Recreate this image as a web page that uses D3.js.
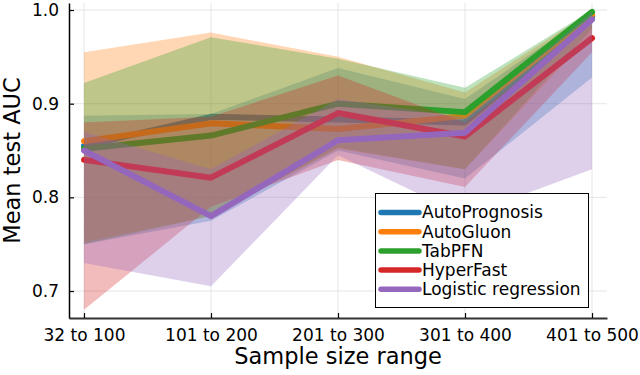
<!DOCTYPE html>
<html>
<head>
<meta charset="utf-8">
<script src="https://cdn.jsdelivr.net/npm/d3@7"></script>
<style>
body { margin: 0; background: #fff; }
svg { font-family: "DejaVu Sans", sans-serif; }
</style>
</head>
<body>
<svg id="chart" width="640" height="375"></svg>
<script>
var categories = ["32 to 100", "101 to 200", "201 to 300", "301 to 400", "401 to 500"];
var seriesNames = ["AutoPrognosis", "AutoGluon", "TabPFN", "HyperFast", "Logistic regression"];
var colors = ["#1f77b4", "#ff7f0e", "#2ca02c", "#d62728", "#9467bd"];

// mean AUC per range
var autoPrognosis = [0.855, 0.886, 0.883, 0.880, 0.993];
var autoGluon     = [0.860, 0.879, 0.873, 0.887, 0.995];
var tabPFN        = [0.852, 0.866, 0.900, 0.891, 0.998];
var hyperFast     = [0.840, 0.821, 0.890, 0.865, 0.970];
var logistic      = [0.850, 0.780, 0.861, 0.869, 0.990];

// ribbon bounds
var autoPrognosisLo = [0.750, 0.775, 0.850, 0.820, 0.928];
var autoPrognosisHi = [0.887, 0.889, 0.938, 0.905, 0.998];
var autoGluonLo     = [0.752, 0.780, 0.852, 0.830, 0.975];
var autoGluonHi     = [0.955, 0.976, 0.950, 0.912, 0.999];
var tabPFNLo        = [0.750, 0.780, 0.853, 0.830, 0.980];
var tabPFNHi        = [0.922, 0.971, 0.948, 0.917, 1.000];
var hyperFastLo     = [0.680, 0.790, 0.840, 0.811, 0.955];
var hyperFastHi     = [0.880, 0.886, 0.930, 0.880, 0.985];
var logisticLo      = [0.730, 0.705, 0.845, 0.780, 0.830];
var logisticHi      = [0.870, 0.830, 0.905, 0.885, 0.998];

var yTicks = [0.7, 0.8, 0.9, 1.0];

var means = [autoPrognosis, autoGluon, tabPFN, hyperFast, logistic];
var lows = [autoPrognosisLo, autoGluonLo, tabPFNLo, hyperFastLo, logisticLo];
var highs = [autoPrognosisHi, autoGluonHi, tabPFNHi, hyperFastHi, logisticHi];

var plotLeft = 69, plotRight = 607, plotTop = 3, plotBottom = 318;

var x = d3.scalePoint()
	.domain(categories)
	.range([plotLeft, plotRight])
	.padding(0.118);
var y = d3.scaleLinear()
	.domain([0.6712, 1.0075])
	.range([plotBottom, plotTop]);

var svg = d3.select("#chart");

// grid
svg.append("g")
	.selectAll("line")
	.data(categories)
	.enter().append("line")
	.attr("x1", function(d) { return x(d); })
	.attr("x2", function(d) { return x(d); })
	.attr("y1", plotTop).attr("y2", plotBottom)
	.attr("stroke", "#e5e5e5").attr("stroke-width", 1);
svg.append("g")
	.selectAll("line")
	.data(yTicks)
	.enter().append("line")
	.attr("x1", plotLeft).attr("x2", plotRight)
	.attr("y1", function(d) { return y(d); })
	.attr("y2", function(d) { return y(d); })
	.attr("stroke", "#e5e5e5").attr("stroke-width", 1);

var area = d3.area()
	.x(function(d) { return x(d.c); })
	.y0(function(d) { return y(d.lo); })
	.y1(function(d) { return y(d.hi); });
var line = d3.line()
	.x(function(d) { return x(d.c); })
	.y(function(d) { return y(d.m); });

// each series: ribbon first, then its line, so later ribbons cover earlier lines
for(var s = 0; s < seriesNames.length; s++)
{
	var pts = categories.map(function(c, i) {
		return {"c": c, "m": means[s][i], "lo": lows[s][i], "hi": highs[s][i]};
	});
	svg.append("path")
		.datum(pts)
		.attr("d", area)
		.attr("fill", colors[s])
		.attr("fill-opacity", 0.31);
	svg.append("path")
		.datum(pts)
		.attr("d", line)
		.attr("fill", "none")
		.attr("stroke", colors[s])
		.attr("stroke-width", 6)
		.attr("stroke-linecap", "round")
		.attr("stroke-linejoin", "round");
}

// axes
var xAxis = d3.axisBottom(x).tickSizeInner(-5).tickSizeOuter(0).tickPadding(10);
var yAxis = d3.axisLeft(y).tickValues(yTicks).tickFormat(d3.format(".1f"))
	.tickSizeInner(-5).tickSizeOuter(0).tickPadding(10);

var gx = svg.append("g")
	.attr("transform", "translate(0," + plotBottom + ")")
	.call(xAxis);
gx.attr("font-size", 17).attr("font-family", "DejaVu Sans");
gx.select(".domain").attr("stroke", "#333").attr("stroke-width", 2);
gx.selectAll(".tick line").attr("stroke", "#000").attr("stroke-width", 1.2);
gx.selectAll("text").attr("fill", "#000").attr("y", 10).attr("dy", "0.75em");

var gy = svg.append("g")
	.attr("transform", "translate(" + plotLeft + ",0)")
	.call(yAxis);
gy.attr("font-size", 17).attr("font-family", "DejaVu Sans");
gy.select(".domain").attr("stroke", "#000").attr("stroke-width", 1.5);
gy.selectAll(".tick line").attr("stroke", "#000").attr("stroke-width", 1.2);
gy.selectAll("text").attr("fill", "#000").attr("x", -10);

// axis titles
svg.append("text")
	.attr("x", (plotLeft + plotRight) / 2)
	.attr("y", 364)
	.attr("text-anchor", "middle")
	.attr("font-size", 22.5)
	.text("Sample size range");
svg.append("text")
	.attr("transform", "translate(20," + ((plotTop + plotBottom) / 2) + ") rotate(-90)")
	.attr("text-anchor", "middle")
	.attr("font-size", 22.5)
	.text("Mean test AUC");

// legend
var legend = svg.append("g");
legend.append("rect")
	.attr("x", 375.5).attr("y", 193.5)
	.attr("width", 213).attr("height", 114)
	.attr("fill", "#fff")
	.attr("stroke", "#000").attr("stroke-width", 1);
var rows = legend.selectAll(".row")
	.data(seriesNames)
	.enter().append("g")
	.attr("transform", function(d, i) { return "translate(0," + (212.5 + i * 19.2) + ")"; });
rows.append("line")
	.attr("x1", 381).attr("x2", 419)
	.attr("y1", 0).attr("y2", 0)
	.attr("stroke", function(d, i) { return colors[i]; })
	.attr("stroke-width", 5.5)
	.attr("stroke-linecap", "round");
rows.append("text")
	.attr("x", 422)
	.attr("y", 0)
	.attr("dy", "0.35em")
	.attr("font-size", 17)
	.text(function(d) { return d; });
</script>
</body>
</html>
